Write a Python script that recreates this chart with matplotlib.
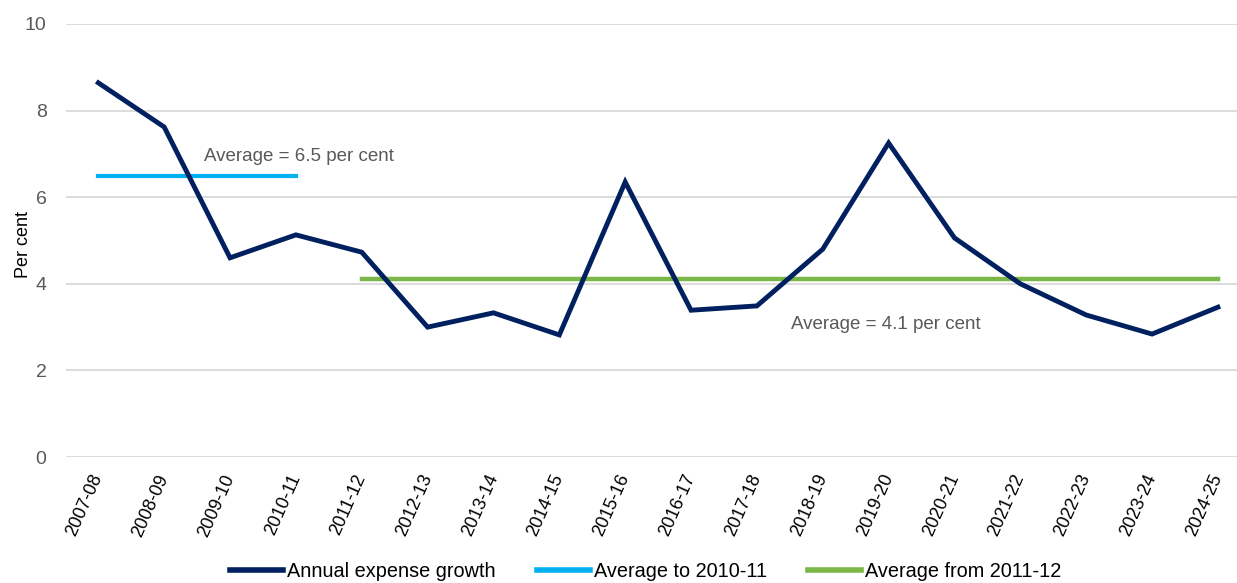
import matplotlib
matplotlib.use("Agg")
import matplotlib.pyplot as plt

years = ["2007-08", "2008-09", "2009-10", "2010-11", "2011-12", "2012-13", "2013-14",
         "2014-15", "2015-16", "2016-17", "2017-18", "2018-19", "2019-20", "2020-21",
         "2021-22", "2022-23", "2023-24", "2024-25"]
growth = [8.64, 7.62, 4.60, 5.13, 4.73, 3.00, 3.33, 2.82, 6.35, 3.39, 3.49, 4.80,
          7.25, 5.06, 4.00, 3.28, 2.84, 3.46]
avg_to_2010_11 = 6.5
avg_from_2011_12 = 4.12
split_index = 4  # first year of second period (2011-12)

plt.rcParams['font.family'] = ['Liberation Sans', 'DejaVu Sans']

fig = plt.figure(figsize=(12.37, 5.83), dpi=100)
ax = fig.add_axes([0.0534, 0.216, 0.9466, 0.743])

x = list(range(len(years)))
navy = "#002060"
cyan = "#00B0F0"
green = "#7AB648"
gray = "#595959"

ax.plot(x, growth, color=navy, lw=3.5, label="Annual expense growth", zorder=4,
        solid_joinstyle="miter")
ax.plot(x[:split_index], [avg_to_2010_11] * split_index, color=cyan, lw=3,
        label="Average to 2010-11", zorder=3)
n2 = len(years) - split_index
ax.plot(x[split_index:], [avg_from_2011_12] * n2, color=green, lw=3.2,
        label="Average from 2011-12", zorder=3)

ax.text(1.61, 6.93, "Average = 6.5 per cent", color=gray, fontsize=13.5,
        va="center", ha="left")
ax.text(10.52, 3.07, "Average = 4.1 per cent", color=gray, fontsize=13.5,
        va="center", ha="left")

ax.set_ylim(0, 10)
ax.set_xlim(-0.49, 17.29)
ax.set_yticks([0, 2, 4, 6, 8, 10])
ax.set_xticks(x)
ax.set_xticklabels(years, rotation=66, ha="right", va="center",
                   rotation_mode="anchor", fontsize=13)
ax.tick_params(axis="x", length=0, pad=13, colors="black")
ax.tick_params(axis="y", length=0, pad=14, labelsize=14, labelcolor=gray)
for s in ax.spines.values():
    s.set_visible(False)
ax.grid(axis="y", color="#D9D9D9", lw=1.3, zorder=0)
ax.set_axisbelow(True)
ax.set_ylabel("Per cent", fontsize=13, color="black")
ax.yaxis.set_label_coords(-0.0295, 0.49)

leg = fig.legend(loc="center", bbox_to_anchor=(0.522, 0.019), ncol=3, frameon=False,
                 fontsize=14.3, handlelength=2.65, handletextpad=0.2,
                 columnspacing=2.1)
for line in leg.get_lines():
    line.set_linewidth(4)

fig.savefig("out.png", dpi=100)
